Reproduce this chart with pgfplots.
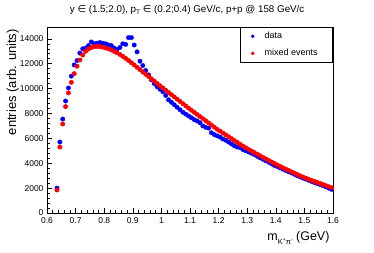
\documentclass[border=0pt]{standalone}
\usepackage{pgfplots}
\pgfplotsset{compat=1.18}
\usepackage{pgfplotstable}
\usepackage{fontspec}
\setmainfont{Liberation Sans}
\newfontfamily\dejavu{DejaVu Sans}

\pgfplotstableread{
m v
0.635 2000
0.645 5700
0.655 7550
0.665 9000
0.675 10050
0.685 11000
0.695 11900
0.705 12250
0.715 12850
0.725 13200
0.735 13250
0.745 13450
0.755 13750
0.765 13600
0.775 13650
0.785 13700
0.795 13650
0.805 13600
0.815 13500
0.825 13450
0.835 13250
0.845 13150
0.855 13300
0.865 13600
0.875 13550
0.885 14100
0.895 14100
0.905 13500
0.915 12950
0.925 12200
0.935 11850
0.945 11450
0.955 11100
0.965 10700
0.975 10400
0.985 10150
0.995 9950
1.005 9750
1.015 9450
1.025 9100
1.035 8900
1.045 8700
1.055 8500
1.065 8300
1.075 8100
1.085 7950
1.095 7800
1.105 7650
1.115 7500
1.125 7400
1.135 7250
1.145 7000
1.155 6880
1.165 6820
1.175 6450
1.185 6300
1.195 6200
1.205 6100
1.215 5950
1.225 5850
1.235 5700
1.245 5550
1.255 5400
1.265 5300
1.275 5250
1.285 5100
1.295 5000
1.305 4900
1.315 4800
1.325 4700
1.335 4560
1.345 4430
1.355 4320
1.365 4200
1.375 4080
1.385 3950
1.395 3830
1.405 3730
1.415 3620
1.425 3520
1.435 3420
1.445 3310
1.455 3220
1.465 3110
1.475 3000
1.485 2900
1.495 2800
1.505 2720
1.515 2630
1.525 2540
1.535 2450
1.545 2370
1.555 2280
1.565 2200
1.575 2100
1.585 2000
1.595 1900
}\datatab

\pgfplotstableread{
m v
0.635 1850
0.645 5300
0.655 7150
0.665 8550
0.675 9650
0.685 10500
0.695 11200
0.705 11800
0.715 12300
0.725 12700
0.735 13000
0.745 13180
0.755 13300
0.765 13370
0.775 13390
0.785 13370
0.795 13330
0.805 13270
0.815 13190
0.825 13100
0.835 12990
0.845 12870
0.855 12740
0.865 12590
0.875 12430
0.885 12260
0.895 12080
0.905 11895
0.915 11710
0.925 11525
0.935 11340
0.945 11155
0.955 10970
0.965 10785
0.975 10600
0.985 10415
0.995 10230
1.005 10050
1.015 9870
1.025 9690
1.035 9510
1.045 9330
1.055 9150
1.065 8970
1.075 8790
1.085 8610
1.095 8430
1.105 8260
1.115 8090
1.125 7920
1.135 7750
1.145 7580
1.155 7410
1.165 7240
1.175 7070
1.185 6900
1.195 6730
1.205 6580
1.215 6430
1.225 6280
1.235 6130
1.245 5980
1.255 5830
1.265 5680
1.275 5530
1.285 5380
1.295 5240
1.305 5110
1.315 4980
1.325 4855
1.335 4730
1.345 4605
1.355 4480
1.365 4355
1.375 4230
1.385 4105
1.395 3980
1.405 3865
1.415 3750
1.425 3640
1.435 3530
1.445 3420
1.455 3310
1.465 3205
1.475 3100
1.485 2995
1.495 2890
1.505 2800
1.515 2710
1.525 2625
1.535 2540
1.545 2455
1.555 2370
1.565 2285
1.575 2200
1.585 2115
1.595 2030
}\mixtab

\begin{document}
\begin{tikzpicture}[x=1pt,y=1pt]
\path[use as bounding box] (0,0) rectangle (374,253);
\begin{axis}[
  at={(47pt,40pt)}, anchor=south west,
  scale only axis, width=286pt, height=186pt,
  clip mode=individual,
  xmin=0.6, xmax=1.6, ymin=0, ymax=14950,
  xtick={0.6,0.7,0.8,0.9,1,1.1,1.2,1.3,1.4,1.5,1.6},
  ytick={0,2000,4000,6000,8000,10000,12000,14000},
  minor x tick num=4, minor y tick num=4,
  tick align=inside, xtick pos=bottom, ytick pos=left,
  major tick length=5pt, minor tick length=2.5pt,
  every tick/.style={black, line width=0.5pt},
  axis line style={line width=0.6pt},
  scaled y ticks=false,
  /pgf/number format/assume math mode=true,
  /pgf/number format/set thousands separator={},
  xticklabel style={/pgf/number format/fixed, /pgf/number format/precision=1},
  tick label style={font=\fontsize{8.5}{10}\selectfont},
  xticklabel style={yshift=-1pt},
  title={y {\dejavu ∈} (1.5;2.0), p\raisebox{-0.45ex}{\fontsize{6.5}{7}\selectfont T} {\dejavu ∈} (0.2;0.4) GeV/c, p+p @ 158 GeV/c},
  title style={font=\fontsize{9.8}{10}\selectfont, at={(rel axis cs:0.49,1)}, anchor=south, yshift=3pt},
  xlabel={m\raisebox{-0.6ex}{\fontsize{7.5}{8}\selectfont K\raisebox{0.8ex}{\fontsize{5}{5}\selectfont +}π\raisebox{0.8ex}{\fontsize{5}{5}\selectfont -}} (GeV)},
  xlabel style={font=\fontsize{12.5}{14}\selectfont, at={(ticklabel cs:1)}, anchor=north east, yshift=-1pt},
  legend style={at={(1,1)}, anchor=north east, draw=black, line width=0.6pt,
    font=\fontsize{9}{10}\selectfont, row sep=9pt, column sep=6pt,
    inner xsep=6pt, inner ysep=5pt, nodes={inner sep=0pt},
    legend cell align=left},
  legend image code/.code={\path[draw=none,fill=none] (0pt,0pt) rectangle (12pt,0.1pt); \path[draw, only marks, mark=*, mark size=1.5pt] plot coordinates {(6pt,0pt)};},
]
\addplot[only marks, mark=*, mark size=2.2pt, color=blue, mark options={draw=blue, fill=blue}] table[x=m,y=v] {\datatab};
\addlegendentry{data}
\addplot[only marks, mark=*, mark size=2.2pt, color=red, mark options={draw=red, fill=red}] table[x=m,y=v] {\mixtab};
\addlegendentry{\makebox[62pt][l]{mixed events}}
\node[rotate=90, anchor=south east, inner sep=0pt, font=\fontsize{13}{14}\selectfont] at ([xshift=-28pt, yshift=-2pt]rel axis cs:0,1) {entries (arb. units)};
\end{axis}
\end{tikzpicture}
\end{document}
